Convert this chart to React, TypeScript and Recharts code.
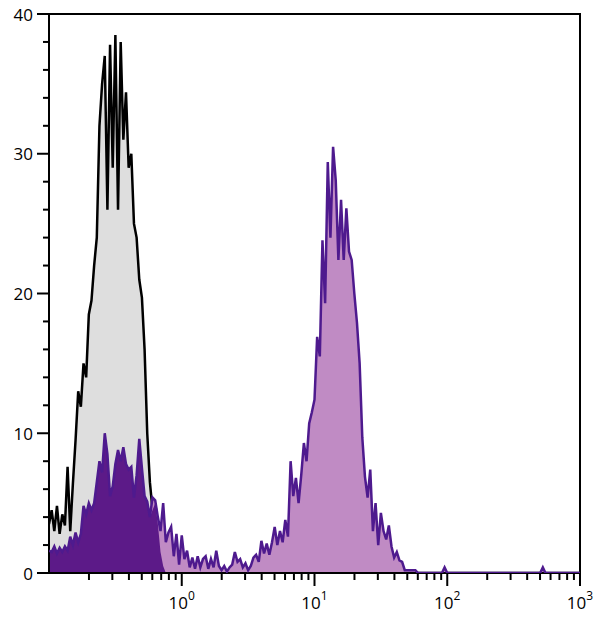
import { ComposedChart, Area, Line, XAxis, YAxis, ReferenceArea } from "recharts";

// channels are log spaced: 50 per decade from 0.1 to 1000
const BINS_PER_DECADE = 50;
const X_MIN = 0.1;
const X_MAX = 1000;

// isotype control (grey, black outline), counts per channel
const CONTROL = [
  3.5, 4.5, 3.0, 4.8, 2.8, 4.2, 3.4, 7.6, 3.0, 6.4,
  9.5, 13.0, 11.9, 15.0, 14.0, 18.5, 19.5, 22.0, 24.0, 32.0,
  35.0, 37.0, 26.0, 37.8, 29.0, 38.5, 26.0, 38.0, 31.0, 34.4,
  29.0, 30.0, 25.0, 24.0, 21.0, 19.7, 16.0, 10.0, 6.5, 4.5,
  5.0, 3.5, 1.5, 0.5, 0, 0,
];

// stained sample (purple), counts per channel
const SAMPLE = [
  1.6, 1.5, 1.9, 1.4, 1.8, 1.5, 1.9, 1.6, 2.6, 2.0,
  2.9, 2.2, 2.8, 4.8, 4.2, 5.0, 4.5, 5.0, 6.5, 8.0,
  7.2, 10.0, 8.5, 5.5, 6.2, 7.8, 8.8, 8.0, 9.0, 7.8,
  7.4, 7.6, 5.4, 7.0, 9.6, 7.5, 5.5, 5.1, 4.0, 5.4,
  5.2, 4.0, 3.0, 5.0, 2.2, 2.9, 3.3, 1.2, 2.8, 0.6,
  2.7, 1.0, 1.6, 0.4, 1.1, 0.3, 1.2, 0.4, 1.0, 1.2,
  0.3, 1.0, 0.4, 1.6, 0.5, 0.2, 0.5, 0.1, 0.4, 0.6,
  1.5, 0.8, 1.0, 0.4, 0.7, 0.2, 0.5, 1.1, 1.3, 0.8,
  2.3, 1.4, 2.1, 1.3, 2.2, 3.3, 2.0, 3.0, 2.2, 3.8,
  2.6, 8.0, 5.5, 6.8, 5.0, 7.0, 9.3, 8.0, 10.7, 11.5,
  12.4, 16.9, 15.5, 23.8, 19.3, 29.4, 24.0, 30.5, 28.1, 22.4,
  26.7, 22.4, 26.1, 23.0, 22.4, 20.0, 17.9, 15.0, 9.7, 6.9,
  5.4, 7.4, 3.0, 5.0, 2.0, 4.3, 3.0, 2.4, 3.4, 1.9,
  1.1, 1.5, 0.9, 0.8, 0.2, 0.2, 0.2, 0.2, 0.2, 0,
  0, 0, 0, 0, 0, 0, 0, 0, 0, 0.4,
  0, 0, 0, 0, 0, 0, 0, 0, 0, 0,
  0, 0, 0, 0, 0, 0, 0, 0, 0, 0,
  0, 0, 0, 0, 0, 0, 0, 0, 0, 0,
  0, 0, 0, 0, 0, 0, 0.4, 0, 0, 0,
];

const X_TICKS = [
  0.2, 0.3, 0.4, 0.5, 0.6, 0.7, 0.8, 0.9, 1,
  2, 3, 4, 5, 6, 7, 8, 9, 10,
  20, 30, 40, 50, 60, 70, 80, 90, 100,
  200, 300, 400, 500, 600, 700, 800, 900, 1000,
];
const X_MAJOR = [1, 10, 100, 1000];
const Y_TICKS = [0, 2, 4, 6, 8, 10, 12, 14, 16, 18, 20, 22, 24, 26, 28, 30, 32, 34, 36, 38, 40];

const nBins = Math.round(Math.log10(X_MAX / X_MIN) * BINS_PER_DECADE) + 1;
const rows = Array.from({ length: nBins }, (_, i) => {
  const c = CONTROL[i] ?? 0;
  const s = SAMPLE[i] ?? 0;
  return { x: X_MIN * Math.pow(10, i / BINS_PER_DECADE), control: c, sample: s, overlap: Math.min(c, s) };
});

function XTick({ x, y, payload }: any) {
  const v = payload.value;
  const major = X_MAJOR.includes(v);
  const exp = Math.round(Math.log10(v));
  return (
    <g>
      <line x1={x} x2={x} y1={y} y2={y + (major ? 13 : 7)} stroke="#000" strokeWidth={2} />
      {major && (
        <text x={x} y={y + 36} textAnchor="middle" fontSize={17} fill="#000">
          10<tspan dy={-9} fontSize={12}>{exp}</tspan>
        </text>
      )}
    </g>
  );
}

function YTick({ x, y, payload }: any) {
  const v = payload.value;
  const major = v % 10 === 0;
  return (
    <g>
      <line x1={x - (major ? 12 : 6)} x2={x} y1={y} y2={y} stroke="#000" strokeWidth={2} />
      {major && (
        <text x={x - 16} y={y} textAnchor="end" dominantBaseline="central" fontSize={17} fill="#000">
          {v}
        </text>
      )}
    </g>
  );
}

export default function App() {
  return (
    <div style={{ position: "absolute", left: 0, top: 0, width: 600, height: 622, background: "#fff" }}>
      <ComposedChart
        width={600}
        height={622}
        data={rows}
        margin={{ top: 14, right: 20, bottom: 0, left: 0 }}
        style={{ fontFamily: "'Open Sans', sans-serif" }}
      >
        <XAxis
          dataKey="x"
          type="number"
          scale="log"
          domain={[X_MIN, X_MAX]}
          allowDataOverflow
          ticks={X_TICKS}
          interval={0}
          height={49}
          axisLine={false}
          tickLine={false}
          tickSize={0}
          tickMargin={0}
          tick={<XTick />}
        />
        <YAxis
          type="number"
          domain={[0, 40]}
          allowDataOverflow
          ticks={Y_TICKS}
          interval={0}
          width={49}
          axisLine={false}
          tickLine={false}
          tickSize={0}
          tickMargin={0}
          tick={<YTick />}
        />
        <Area type="linear" dataKey="control" fill="#dedede" fillOpacity={1} stroke="#000" strokeWidth={2.5} dot={false} activeDot={false} isAnimationActive={false} />
        <Area type="linear" dataKey="sample" fill="#c08bc4" fillOpacity={1} stroke="none" dot={false} activeDot={false} isAnimationActive={false} />
        <Area type="linear" dataKey="overlap" fill="#5c1a88" fillOpacity={1} stroke="none" dot={false} activeDot={false} isAnimationActive={false} />
        <Line type="linear" dataKey="sample" stroke="#4e1a8e" strokeWidth={2.5} dot={false} activeDot={false} isAnimationActive={false} />
        <ReferenceArea x1={X_MIN} x2={X_MAX} y1={0} y2={40} fill="none" stroke="#000" strokeWidth={2} ifOverflow="visible" />
      </ComposedChart>
    </div>
  );
}
